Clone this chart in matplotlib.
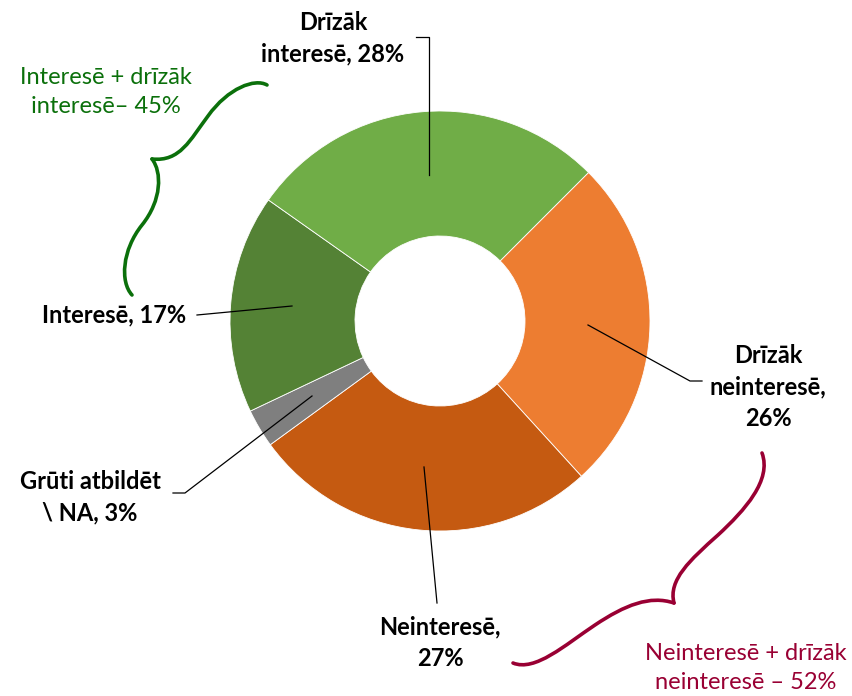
import matplotlib
matplotlib.use("Agg")
import matplotlib.pyplot as plt
from matplotlib.path import Path
from matplotlib.patches import PathPatch

categories = ["Drīzāk neinteresē", "Neinteresē", "Grūti atbildēt \\ NA", "Interesē", "Drīzāk interesē"]
values = [26, 27, 3, 17, 28]
colors = ["#ED7D31", "#C55A11", "#7F7F7F", "#548235", "#70AD47"]
label_texts = ["Drīzāk\nneinteresē,\n26%", "Neinteresē,\n27%", "Grūti atbildēt\n\\ NA, 3%",
               "Interesē, 17%", "Drīzāk\ninteresē, 28%"]
group_texts = ["Interesē + drīzāk\ninteresē– 45%", "Neinteresē + drīzāk\nneinteresē – 52%"]
group_colors = ["#0B700B", "#990033"]

W, H = 852, 696
fig = plt.figure(figsize=(W / 100, H / 100), dpi=100)
ax = fig.add_axes([0, 0, 1, 1])

def Y(y):
    return H - y

cx, cy, R, r_in = 440, 321, 210, 85
ax.pie(values, colors=colors, startangle=45, counterclock=False,
       center=(cx, Y(cy)), radius=R, frame=True,
       wedgeprops=dict(width=R - r_in, edgecolor="white", linewidth=0.6))
ax.set_xlim(0, W)
ax.set_ylim(0, H)
ax.set_aspect("equal")
ax.axis("off")

font = "Lato"
lab_kw = dict(fontsize=17, fontweight="bold", color="black", family=font, linespacing=1.45)

# leader lines (pixel coords)
leaders = [
    [(588, 325), (690, 381), (702, 381)],
    [(424, 467), (437, 603)],
    [(312, 396), (185, 493), (173, 493)],
    [(292, 306), (197, 315)],
    [(429, 175), (429, 37), (416, 37)],
]
for pts in leaders:
    xs = [p[0] for p in pts]
    ys = [Y(p[1]) for p in pts]
    ax.plot(xs, ys, color="black", lw=0.9)

ax.text(768, Y(387), label_texts[0], ha="center", va="center", **lab_kw)
ax.text(440, Y(643), label_texts[1], ha="center", va="center", **lab_kw)
ax.text(90, Y(497), label_texts[2], ha="center", va="center", **lab_kw)
ax.text(186, Y(315), label_texts[3], ha="right", va="center", **lab_kw)
ax.text(333, Y(38), label_texts[4], ha="center", va="center", **lab_kw)

grp_kw = dict(fontsize=17, family=font, linespacing=1.45, ha="center", va="center")
ax.text(106, Y(92), group_texts[0], color=group_colors[0], **grp_kw)
ax.text(746, Y(668), group_texts[1], color=group_colors[1], **grp_kw)

def brace(segs, color):
    verts = [segs[0][0]]
    codes = [Path.MOVETO]
    for s in segs:
        verts += [s[1], s[2], s[3]]
        codes += [Path.CURVE4] * 3
    verts = [(x, Y(y)) for x, y in verts]
    ax.add_patch(PathPatch(Path(verts, codes), fill=False, edgecolor=color, lw=2.6,
                           capstyle="round"))

# green brace
brace([
    [(267, 85), (255, 78), (228, 88), (208, 116)],
    [(208, 116), (190, 140), (180, 162), (152, 159)],
], group_colors[0])
brace([
    [(152, 159), (162, 172), (162, 200), (142, 225)],
    [(142, 225), (122, 250), (120, 282), (132, 295)],
], group_colors[0])

# maroon brace
brace([
    [(762, 453), (772, 480), (745, 510), (718, 535)],
    [(718, 535), (690, 560), (668, 580), (674, 603)],
], group_colors[1])
brace([
    [(674, 603), (650, 595), (625, 605), (595, 625)],
    [(595, 625), (565, 645), (535, 672), (513, 663)],
], group_colors[1])

fig.savefig("out.png", dpi=100)
